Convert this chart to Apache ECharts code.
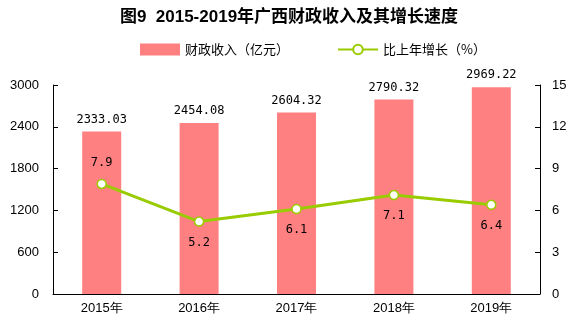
<!DOCTYPE html>
<html><head><meta charset="utf-8">
<script src="https://cdn.jsdelivr.net/npm/echarts@6/dist/echarts.min.js"></script>
<style>html,body{margin:0;padding:0;background:#fff}#c{width:578px;height:332px}</style>
</head><body><div id="c"></div>
<script>
const categories = ['2015年','2016年','2017年','2018年','2019年'];
const revenue = [2333.03, 2454.08, 2604.32, 2790.32, 2969.22];
const growth = [7.9, 5.2, 6.1, 7.1, 6.4];
const growthLabelPos = ['top','bottom','bottom','bottom','bottom'];
const leftTicks = [0, 600, 1200, 1800, 2400, 3000];
const rightTicks = [0, 3, 6, 9, 12, 15];

const chart = echarts.init(document.getElementById('c'), null, {renderer:'canvas'});
const axisFont = {fontFamily:'Liberation Sans, Arial', fontSize:13, color:'#000'};
chart.setOption({
  animation:false,
  backgroundColor:'#fff',
  title:{text:'图9  2015-2019年广西财政收入及其增长速度', left:'center', top:4,
    textStyle:{fontFamily:'Liberation Sans, Noto Sans CJK SC', fontWeight:'bold', fontSize:17, color:'#000'}},
  legend:{top:38, left:135, itemGap:48, itemWidth:40, itemHeight:12,
    textStyle:{fontFamily:'Noto Sans CJK SC', fontSize:13, color:'#000'},
    data:[{name:'财政收入（亿元）', icon:'rect'},{name:'比上年增长（%）'}]},
  grid:{left:53, right:38, top:85, bottom:38, containLabel:false},
  xAxis:{type:'category', data:categories,
    axisLine:{lineStyle:{color:'#000'}}, axisTick:{show:false},
    axisLabel:Object.assign({margin:8}, axisFont)},
  yAxis:[
    {type:'value', min:leftTicks[0], max:leftTicks[leftTicks.length-1], interval:600,
     axisLine:{show:true, lineStyle:{color:'#000'}}, axisTick:{show:true, inside:true, length:5, lineStyle:{color:'#000'}},
     splitLine:{show:false}, axisLabel:Object.assign({margin:14, formatter:v=>String(v)}, axisFont)},
    {type:'value', min:rightTicks[0], max:rightTicks[rightTicks.length-1], interval:3,
     axisLine:{show:true, lineStyle:{color:'#000'}}, axisTick:{show:true, inside:true, length:5, lineStyle:{color:'#000'}},
     splitLine:{show:false}, axisLabel:Object.assign({margin:12, formatter:v=>String(v)}, axisFont)}
  ],
  series:[
    {name:'财政收入（亿元）', type:'bar', data:revenue, barWidth:39, yAxisIndex:0,
     itemStyle:{color:'#FF8080'},
     label:{show:true, position:'top', distance:6, fontFamily:'DejaVu Sans Mono, monospace', fontSize:12, color:'#000',
       formatter:p=>p.value.toFixed(2)}},
    {name:'比上年增长（%）', type:'line', yAxisIndex:1,
     data:growth.map((v,i)=>({value:v, label:{position:growthLabelPos[i]}})),
     lineStyle:{color:'#99CC00', width:3}, itemStyle:{color:'#fff', borderColor:'#99CC00', borderWidth:1.5},
     symbol:'circle', symbolSize:9,
     label:{show:true, distance:10, fontFamily:'DejaVu Sans Mono, monospace', fontSize:12, color:'#000'}}
  ]
});
</script></body></html>
